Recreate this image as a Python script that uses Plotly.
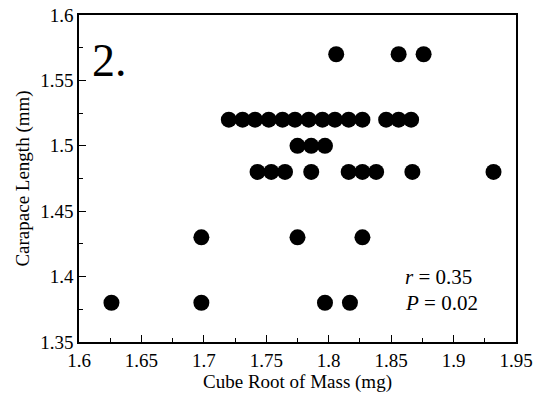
import plotly.graph_objects as go

# Data (x = cube root of mass, y = carapace length)
x_157 = [1.806, 1.856, 1.876]
x_152 = [1.720, 1.731, 1.741, 1.752, 1.763, 1.773, 1.784, 1.795, 1.805, 1.816, 1.827,
         1.846, 1.856, 1.866]
x_150 = [1.775, 1.786, 1.797]
x_148 = [1.743, 1.754, 1.765, 1.786, 1.816, 1.827, 1.838, 1.867, 1.932]
x_143 = [1.698, 1.775, 1.827]
x_138 = [1.626, 1.698, 1.797, 1.817]

row_levels = [1.57, 1.52, 1.50, 1.48, 1.43, 1.38]
rows = [x_157, x_152, x_150, x_148, x_143, x_138]

x_ticks = [1.6, 1.65, 1.7, 1.75, 1.8, 1.85, 1.9, 1.95]
x_ticktext = ["1.6", "1.65", "1.7", "1.75", "1.8", "1.85", "1.9", "1.95"]
y_ticks = [1.35, 1.4, 1.45, 1.5, 1.55, 1.6]
y_ticktext = ["1.35", "1.4", "1.45", "1.5", "1.55", "1.6"]

xs, ys = [], []
for lvl, row in zip(row_levels, rows):
    xs.extend(row)
    ys.extend([lvl] * len(row))

FONT = "Liberation Serif, Times New Roman, serif"

fig = go.Figure()
fig.add_trace(go.Scatter(
    x=xs, y=ys, mode="markers",
    marker=dict(color="black", size=16, line=dict(width=0)),
    showlegend=False, hoverinfo="skip",
))

axis_common = dict(
    showgrid=False, zeroline=False,
    showline=True, linecolor="black", linewidth=1.6, mirror=True,
    ticks="inside", ticklen=7, tickwidth=1.3, tickcolor="black",
    tickfont=dict(family=FONT, size=19, color="black"),
    automargin=False,
)

fig.update_xaxes(
    range=[1.6, 1.95], tickvals=x_ticks, ticktext=x_ticktext,
    minor=dict(ticks="inside", ticklen=4, tickwidth=1, tickcolor="black", dtick=0.025, tick0=1.6, showgrid=False),
    title=dict(text="Cube Root of Mass (mg)", font=dict(family=FONT, size=19, color="black"), standoff=1),
    **axis_common,
)
fig.update_yaxes(
    range=[1.35, 1.6], tickvals=y_ticks, ticktext=y_ticktext,
    minor=dict(ticks="inside", ticklen=4, tickwidth=1, tickcolor="black", dtick=0.025, tick0=1.35, showgrid=False),
    title=dict(text="Carapace Length (mm)", font=dict(family=FONT, size=19, color="black"), standoff=6),
    **axis_common,
)

fig.add_annotation(x=1.609, y=1.5655, xref="x", yref="y", text="2.", showarrow=False,
                   xanchor="left", yanchor="middle",
                   font=dict(family=FONT, size=46, color="black"))
fig.add_annotation(x=1.8595, y=1.4, xref="x", yref="y", text="<i>r</i> = 0.35", showarrow=False,
                   xanchor="left", yanchor="middle",
                   font=dict(family=FONT, size=21, color="black"))
fig.add_annotation(x=1.8595, y=1.3795, xref="x", yref="y", text="<i>P</i> = 0.02", showarrow=False,
                   xanchor="left", yanchor="middle",
                   font=dict(family=FONT, size=21, color="black"))

fig.update_layout(
    template="none",
    width=536, height=396,
    margin=dict(l=79, r=20, t=15, b=54),
    plot_bgcolor="white", paper_bgcolor="white",
    font=dict(family=FONT, color="black"),
)

fig.write_html("out.html", config={"displayModeBar": False},
               post_script="document.body.style.margin='0';")
